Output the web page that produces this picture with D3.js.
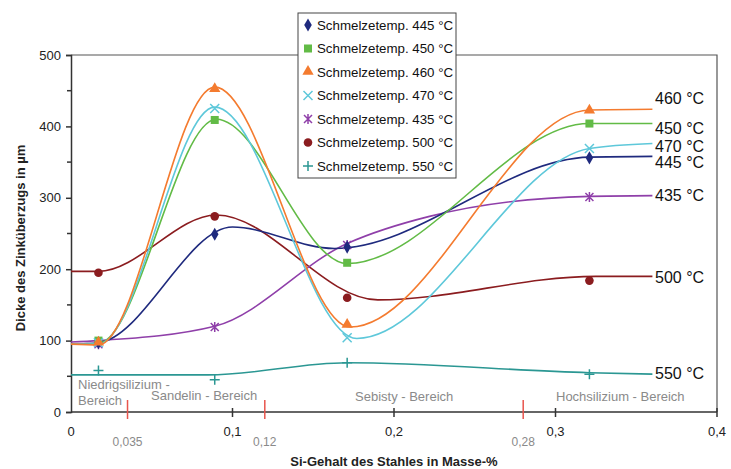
<!DOCTYPE html>
<html>
<head>
<meta charset="utf-8">
<script src="https://cdn.jsdelivr.net/npm/d3@7"></script>
<style>
  body { margin: 0; background: #fff; }
  text { font-family: "Liberation Sans", Arial, sans-serif; }
</style>
</head>
<body>
<div id="chart"></div>
<script>
// marker positions (Si content) and measured values
var markerSi = [0.017, 0.089, 0.171, 0.321];
var temps = ["445", "450", "460", "470", "435", "500", "550"];
var markerValues = {
  "445": [97, 249, 231, 356],
  "450": [100, 409, 209, 404],
  "460": [97, 452, 122, 422],
  "470": [97, 425, 104, 369],
  "435": [95, 119, 234, 301],
  "500": [195, 274, 160, 184],
  "550": [58, 45, 69, 53]
};
// fitted curves (x, y) - drawn separately, they don't go exactly through markers
var curveKnots = {
  "445": [[0, 95], [0.017, 97], [0.1, 259], [0.163, 229], [0.321, 357], [0.36, 358]],
  "450": [[0, 95], [0.017, 96], [0.09, 410], [0.171, 208], [0.321, 404], [0.36, 404]],
  "460": [[0, 95], [0.017, 94], [0.089, 455], [0.173, 119], [0.321, 423], [0.36, 424]],
  "470": [[0, 95], [0.017, 95], [0.089, 427], [0.177, 103], [0.321, 369], [0.36, 376]],
  "435": [[0, 98], [0.017, 100], [0.089, 120], [0.171, 236], [0.222, 274], [0.321, 302], [0.36, 303]],
  "500": [[0, 197], [0.017, 197], [0.09, 276], [0.19, 157], [0.325, 190], [0.36, 190]],
  "550": [[0, 52], [0.085, 52], [0.171, 69], [0.321, 55], [0.36, 53]]
};
var endLabels = ["460 °C", "450 °C", "470 °C", "445 °C", "435 °C", "500 °C", "550 °C"];
var endLabelY = [98, 128, 146, 162, 195, 277, 373];
var yTicks = [0, 100, 200, 300, 400, 500];
var xTicks = [0, 0.1, 0.2, 0.3, 0.4];
var xTickLabels = ["0", "0,1", "0,2", "0,3", "0,4"];
var borders = [0.035, 0.12, 0.28];
var borderLabels = ["0,035", "0,12", "0,28"];

var colors = {
  "445": "#1f2a7e", "450": "#62bb46", "460": "#f47b2f", "470": "#5ec8da",
  "435": "#8f3fa9", "500": "#8b1c1f", "550": "#2b9793"
};
var symbols = {
  "445": "diamond", "450": "square", "460": "triangle", "470": "cross",
  "435": "asterisk", "500": "circle", "550": "plus"
};

var width = 731, height = 469;
var svg = d3.select("#chart").append("svg")
  .attr("width", width)
  .attr("height", height);

var x = d3.scaleLinear().domain([0, 0.4]).range([71, 717]);
var y = d3.scaleLinear().domain([0, 500]).range([412, 55]);

// plot frame (top and right)
svg.append("path")
  .attr("d", "M" + x(0) + "," + y(500) + "H" + x(0.4) + "V" + y(0))
  .attr("fill", "none")
  .attr("stroke", "#555")
  .attr("stroke-width", 1.2);

// y axis
var yAxis = d3.axisLeft(y).tickValues(yTicks).tickSize(5).tickFormat(d3.format("d"));
var gy = svg.append("g").attr("transform", "translate(" + x(0) + ",0)").call(yAxis);
gy.selectAll("text").attr("font-size", 13).attr("fill", "#222").attr("dx", "-2");
gy.selectAll("path, line").attr("stroke", "#333").attr("stroke-width", 1.5);
// minor ticks
svg.append("g").selectAll("line")
  .data(d3.range(50, 500, 100))
  .enter().append("line")
    .attr("x1", x(0) - 4).attr("x2", x(0))
    .attr("y1", function(d){ return y(d); })
    .attr("y2", function(d){ return y(d); })
    .attr("stroke", "#333").attr("stroke-width", 1.5);

// x axis
var gx = svg.append("g").attr("transform", "translate(0," + y(0) + ")");
gx.append("line")
  .attr("x1", x(0)).attr("x2", x(0.4))
  .attr("stroke", "#333").attr("stroke-width", 1.5);
gx.selectAll(".xtick").data(xTicks.slice(1)).enter().append("line")
  .attr("x1", function(d){ return x(d); })
  .attr("x2", function(d){ return x(d); })
  .attr("y1", -4).attr("y2", 5)
  .attr("stroke", "#333").attr("stroke-width", 1.5);
gx.selectAll(".xlabel").data(xTicks).enter().append("text")
  .attr("x", function(d){ return x(d); })
  .attr("y", 24)
  .attr("text-anchor", "middle")
  .attr("font-size", 13)
  .attr("fill", "#222")
  .text(function(d, i){ return xTickLabels[i]; });

// red region borders
gx.selectAll(".border").data(borders).enter().append("line")
  .attr("x1", function(d){ return x(d); })
  .attr("x2", function(d){ return x(d); })
  .attr("y1", -12).attr("y2", 7)
  .attr("stroke", "#e8554d").attr("stroke-width", 1.5);
gx.selectAll(".borderlabel").data(borders).enter().append("text")
  .attr("x", function(d){ return x(d); })
  .attr("y", 34)
  .attr("text-anchor", "middle")
  .attr("font-size", 12)
  .attr("fill", "#8a8a8a")
  .text(function(d, i){ return borderLabels[i]; });

// region names
var regions = svg.append("g").attr("font-size", 13).attr("fill", "#8a8a8a");
regions.append("text").attr("x", 78).attr("y", 389).text("Niedrigsilizium -");
regions.append("text").attr("x", 78).attr("y", 405).text("Bereich");
regions.append("text").attr("x", 151).attr("y", 400).text("Sandelin - Bereich");
regions.append("text").attr("x", 355).attr("y", 401).text("Sebisty - Bereich");
regions.append("text").attr("x", 556).attr("y", 401).text("Hochsilizium - Bereich");

// axis titles
svg.append("text")
  .attr("x", 394).attr("y", 466)
  .attr("text-anchor", "middle")
  .attr("font-size", 13).attr("font-weight", "bold")
  .attr("fill", "#222")
  .text("Si-Gehalt des Stahles in Masse-%");
svg.append("text")
  .attr("transform", "translate(25,238) rotate(-90)")
  .attr("text-anchor", "middle")
  .attr("font-size", 13).attr("font-weight", "bold")
  .attr("fill", "#222")
  .text("Dicke des Zinküberzugs in µm");

// curves
var line = d3.line()
  .x(function(d){ return x(d[0]); })
  .y(function(d){ return y(d[1]); })
  .curve(d3.curveMonotoneX);

var drawOrder = ["550", "500", "435", "445", "450", "470", "460"];
svg.append("g").selectAll("path")
  .data(drawOrder)
  .enter().append("path")
    .attr("d", function(t){ return line(curveKnots[t]); })
    .attr("fill", "none")
    .attr("stroke", function(t){ return colors[t]; })
    .attr("stroke-width", 1.6);

// marker drawing helper
function drawMarker(g, t, cx, cy) {
  var c = colors[t];
  var s = symbols[t];
  if (s == "diamond") {
    g.append("path").attr("d", d3.symbol(d3.symbolDiamond, 50)())
      .attr("transform", "translate(" + cx + "," + cy + ")").attr("fill", c);
  } else if (s == "square") {
    g.append("rect").attr("x", cx - 4).attr("y", cy - 4)
      .attr("width", 8).attr("height", 8).attr("fill", c);
  } else if (s == "triangle") {
    g.append("path").attr("d", d3.symbol(d3.symbolTriangle, 55)())
      .attr("transform", "translate(" + cx + "," + (cy - 0.5) + ")").attr("fill", c);
  } else if (s == "circle") {
    g.append("circle").attr("cx", cx).attr("cy", cy).attr("r", 4.3).attr("fill", c);
  } else if (s == "cross") {
    g.append("path").attr("d", "M-4.5,-4.5L4.5,4.5M-4.5,4.5L4.5,-4.5")
      .attr("transform", "translate(" + cx + "," + cy + ")")
      .attr("stroke", c).attr("stroke-width", 1.5);
  } else if (s == "asterisk") {
    g.append("path").attr("d", "M-4,-4L4,4M-4,4L4,-4M0,-5V5")
      .attr("transform", "translate(" + cx + "," + cy + ")")
      .attr("stroke", c).attr("stroke-width", 1.5);
  } else if (s == "plus") {
    g.append("path").attr("d", "M-5,0H5M0,-5V5")
      .attr("transform", "translate(" + cx + "," + cy + ")")
      .attr("stroke", c).attr("stroke-width", 1.5);
  }
}

var markers = svg.append("g");
drawOrder.forEach(function(t){
  markerValues[t].forEach(function(v, i){
    drawMarker(markers, t, x(markerSi[i]), y(v));
  });
});

// end labels
svg.append("g").selectAll("text")
  .data(endLabels)
  .enter().append("text")
    .attr("x", 655)
    .attr("y", function(d, i){ return endLabelY[i]; })
    .attr("dy", "0.35em")
    .attr("font-size", 16)
    .attr("fill", "#111")
    .text(function(d){ return d; });

// legend
var legend = svg.append("g").attr("transform", "translate(298,13)");
legend.append("rect")
  .attr("x", 0).attr("y", 0)
  .attr("width", 158).attr("height", 165)
  .attr("fill", "#fff")
  .attr("stroke", "#444").attr("stroke-width", 1);
temps.forEach(function(t, i){
  var ly = 12 + i * 23.5;
  drawMarker(legend, t, 10, ly);
  legend.append("text")
    .attr("x", 19).attr("y", ly)
    .attr("dy", "0.35em")
    .attr("font-size", 13.3)
    .attr("fill", "#111")
    .text("Schmelzetemp. " + t + " °C");
});
</script>
</body>
</html>
